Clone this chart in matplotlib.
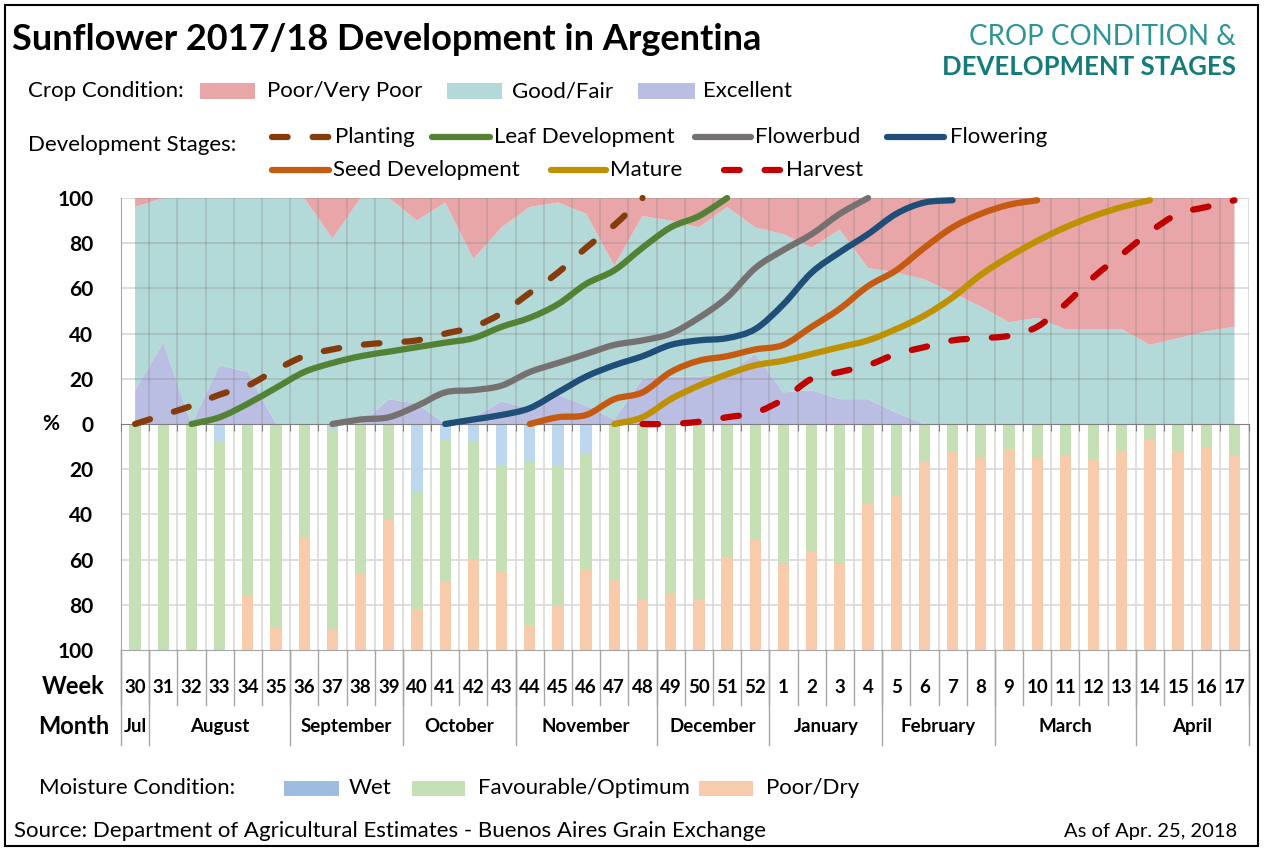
import matplotlib
matplotlib.use("Agg")
import matplotlib.pyplot as plt
import matplotlib.transforms as mtransforms
from matplotlib.patches import Rectangle, PathPatch
from matplotlib.lines import Line2D
from matplotlib.path import Path
import numpy as np

plt.rcParams['font.family'] = ['Lato', 'DejaVu Sans']

# ---- data ----
weeks = list(range(30, 53)) + list(range(1, 18))
months = ["Jul", "August", "September", "October", "November", "December",
          "January", "February", "March", "April"]
month_weeks = [1, 5, 4, 4, 5, 4, 4, 4, 5, 4]

# crop condition, % of area
excellent = [15, 36, 0, 26, 23, 0, 0, 0, 0, 11, 9, 0, 3, 10, 7, 13, 8, 2, 20, 21,
             21, 22, 31, 14, 15, 11, 11, 5, 0, 0, 0, 0, 0, 0, 0, 0, 0, 0, 0, 0]
good_fair = [81, 64, 100, 74, 77, 100, 100, 82, 100, 89, 81, 98, 70, 77, 89, 85, 85, 68, 72, 69,
             66, 74, 56, 70, 63, 75, 58, 62, 64, 58, 52, 45, 47, 42, 42, 42, 35, 38, 41, 43]
poor_vpoor = [4, 0, 0, 0, 0, 0, 0, 18, 0, 0, 10, 2, 27, 13, 4, 2, 7, 30, 8, 10,
              13, 4, 13, 16, 22, 14, 31, 33, 36, 42, 48, 55, 53, 58, 58, 58, 65, 62, 59, 57]

# development stages, cumulative %
N = None
planting = [0, 4, 8, 13, 17, 24, 30, 33, 35, 36, 37, 40, 43, 49, 58, 67, 78, 88, 100, N,
            N, N, N, N, N, N, N, N, N, N, N, N, N, N, N, N, N, N, N, N]
leaf_dev = [N, N, 0, 3, 9, 16, 23, 27, 30, 32, 34, 36, 38, 43, 47, 53, 62, 68, 78, 87,
            92, 100, N, N, N, N, N, N, N, N, N, N, N, N, N, N, N, N, N, N]
flowerbud = [N, N, N, N, N, N, N, 0, 2, 3, 8, 14, 15, 17, 23, 27, 31, 35, 37, 40,
             47, 56, 69, 77, 84, 93, 100, N, N, N, N, N, N, N, N, N, N, N, N, N]
flowering = [N, N, N, N, N, N, N, N, N, N, N, 0, 2, 4, 7, 14, 21, 26, 30, 35,
             37, 38, 42, 53, 67, 76, 84, 93, 98, 99, N, N, N, N, N, N, N, N, N, N]
seed_dev = [N, N, N, N, N, N, N, N, N, N, N, N, N, N, 0, 3, 4, 11, 14, 23,
            28, 30, 33, 35, 43, 51, 61, 68, 78, 87, 93, 97, 99, N, N, N, N, N, N, N]
mature = [N, N, N, N, N, N, N, N, N, N, N, N, N, N, N, N, N, 0, 3, 11,
          17, 22, 26, 28, 31, 34, 37, 42, 48, 56, 66, 74, 81, 87, 92, 96, 99, N, N, N]
harvest = [N, N, N, N, N, N, N, N, N, N, N, N, N, N, N, N, N, N, 0, 0,
           1, 3, 5, 11, 20, 23, 26, 31, 34, 37, 38, 39, 43, 53, 65, 75, 85, 93, 96, 99]

# moisture condition, %
wet = [0, 0, 0, 8, 0, 0, 0, 2, 0, 1, 30, 7, 8, 18, 17, 18, 13, 0, 0, 1,
       0, 0, 0, 0, 0, 0, 0, 0, 0, 0, 0, 0, 0, 0, 0, 0, 0, 0, 0, 0]
favourable = [100, 100, 100, 92, 76, 90, 50, 89, 66, 41, 52, 63, 52, 47, 72, 62, 51, 69, 78, 74,
              78, 59, 51, 62, 56, 62, 35, 32, 17, 12, 15, 11, 15, 14, 16, 12, 7, 12, 10, 14]
poor_dry = [0, 0, 0, 0, 24, 10, 50, 9, 34, 58, 18, 30, 40, 35, 11, 20, 36, 31, 22, 25,
            22, 41, 49, 38, 44, 38, 65, 68, 83, 88, 85, 89, 85, 86, 84, 88, 93, 88, 90, 86]

# ---- styling ----
C_POOR, C_GOOD, C_EXC = "#E8A6A8", "#B3D9D8", "#BABEE2"
C_WET, C_FAV, C_DRY = "#BDD7EE", "#C5E0B4", "#F8CBAD"
C_WET_LEG = "#9DBCE0"
stages = [
    ("Planting", planting, "#843C0C", True),
    ("Leaf Development", leaf_dev, "#548235", False),
    ("Flowerbud", flowerbud, "#767171", False),
    ("Flowering", flowering, "#1F4E79", False),
    ("Seed Development", seed_dev, "#C55A11", False),
    ("Mature", mature, "#BF9000", False),
    ("Harvest", harvest, "#C00000", True),
]
DASH = (0, (2.5, 4))
LW = 4.5
LEG = 16

W, H = 1264, 850
fig = plt.figure(figsize=(W / 100, H / 100), dpi=100)


def fx(px):
    return px / W


def fy(py):
    return 1 - py / H


def smooth_path(xs, ys):
    # Excel-style smoothed line: cubic bezier through the weekly points
    verts, codes = [(xs[0], ys[0])], [Path.MOVETO]
    n = len(xs)
    for i in range(n - 1):
        xa, ya = (xs[i - 1], ys[i - 1]) if i > 0 else (xs[i], ys[i])
        xb, yb = (xs[i + 2], ys[i + 2]) if i + 2 < n else (xs[i + 1], ys[i + 1])
        c1 = (xs[i] + (xs[i + 1] - xa) / 6, ys[i] + (ys[i + 1] - ya) / 6)
        c2 = (xs[i + 1] - (xb - xs[i]) / 6, ys[i + 1] - (yb - ys[i]) / 6)
        verts += [c1, c2, (xs[i + 1], ys[i + 1])]
        codes += [Path.CURVE4] * 3
    return Path(verts, codes)


L, R = 121, 1248.6
ax1 = fig.add_axes([fx(L), fy(424), fx(R) - fx(L), fy(198) - fy(424)])
ax2 = fig.add_axes([fx(L), fy(650), fx(R) - fx(L), fy(424) - fy(650)])
ax1.set_zorder(3)

x = np.arange(len(weeks))
edges = np.arange(len(weeks) + 1) - 0.5

# ---- upper panel: crop condition + stages ----
ax1.stackplot(x, excellent, good_fair, poor_vpoor, colors=[C_EXC, C_GOOD, C_POOR],
              linewidth=0, zorder=1)
for e in edges[1:]:
    ax1.axvline(e, color="#7F7F7F", alpha=0.3, lw=1.2, zorder=2)
for v in (20, 40, 60, 80, 100):
    ax1.axhline(v, color="#7F7F7F", alpha=0.3, lw=1.2, zorder=2)

for name, vals, col, dashed in stages:
    idx = [i for i, v in enumerate(vals) if v is not None]
    path = smooth_path([x[i] for i in idx], [vals[i] for i in idx])
    ax1.add_patch(PathPatch(path, fill=False, edgecolor=col, lw=LW,
                            ls=DASH if dashed else "-", capstyle="round",
                            joinstyle="round", zorder=4, clip_on=False))

ax1.set_xlim(-0.5, len(weeks) - 0.5)
ax1.set_ylim(0, 100)
ax1.set_xticks(edges)
ax1.tick_params(axis="x", length=5, color="#7F7F7F", labelbottom=False)
ax1.set_yticks([0, 20, 40, 60, 80, 100])
ax1.set_yticklabels(["0", "20", "40", "60", "80", "100"], fontweight="bold", fontsize=15)
ax1.tick_params(axis="y", length=0, pad=20)
for s in ("top", "right"):
    ax1.spines[s].set_visible(False)
ax1.spines["left"].set_color("#A6A6A6")
ax1.spines["bottom"].set_color("#7F7F7F")

# ---- lower panel: moisture ----
ax2.set_axisbelow(True)
for e in edges:
    ax2.axvline(e, color="#D9D9D9", lw=1.2, zorder=0)
for v in (20, 40, 60, 80):
    ax2.axhline(v, color="#D9D9D9", lw=1.2, zorder=0)
ax2.bar(x, wet, 0.4, color=C_WET, zorder=2)
ax2.bar(x, favourable, 0.4, bottom=wet, color=C_FAV, zorder=2)
ax2.bar(x, poor_dry, 0.4, bottom=np.add(wet, favourable), color=C_DRY, zorder=2)
ax2.set_xlim(-0.5, len(weeks) - 0.5)
ax2.set_ylim(100, 0)
ax2.set_xticks([])
ax2.set_yticks([20, 40, 60, 80, 100])
ax2.set_yticklabels(["20", "40", "60", "80", "100"], fontweight="bold", fontsize=15)
ax2.tick_params(axis="y", length=0, pad=20)
ax2.spines["top"].set_visible(False)
for s in ("left", "right", "bottom"):
    ax2.spines[s].set_color("#A6A6A6")

# week / month rows under the chart
blend = mtransforms.blended_transform_factory(ax2.transData, ax2.transAxes)
for i, w in enumerate(weeks):
    ax2.text(i, -0.165, str(w), transform=blend, ha="center", va="center",
             fontweight="bold", fontsize=13.5)
month_edges = np.concatenate([[0], np.cumsum(month_weeks)])
for e in edges:
    ax2.plot([e, e], [0, -0.245], transform=blend, color="#A6A6A6", lw=1, clip_on=False)
for e in month_edges:
    ax2.plot([e - 0.5, e - 0.5], [0, -0.42], transform=blend, color="#A6A6A6", lw=1,
             clip_on=False)
for m, a, b in zip(months, month_edges[:-1], month_edges[1:]):
    ax2.text((a + b - 1) / 2, -0.34, m, transform=blend, ha="center", va="center",
             fontweight="bold", fontsize=13.5)

fig.text(fx(42), fy(687), "Week", ha="left", va="center", fontweight="bold", fontsize=17)
fig.text(fx(38), fy(727), "Month", ha="left", va="center", fontweight="bold", fontsize=17)
fig.text(fx(42), fy(424), "%", ha="left", va="center", fontweight="bold", fontsize=15)

# ---- header ----
fig.text(fx(12), fy(40), "Sunflower 2017/18 Development in Argentina", ha="left",
         va="center", fontweight="bold", fontsize=26)
fig.text(fx(1236), fy(37), "CROP CONDITION &", ha="right", va="center",
         color="#2E9494", fontsize=20)
fig.text(fx(1236), fy(67), "DEVELOPMENT STAGES", ha="right", va="center",
         color="#147B7B", fontweight="bold", fontsize=18.5)


def patch(x0, x1, yc, h, color):
    fig.add_artist(Rectangle((fx(x0), fy(yc + h / 2)), fx(x1) - fx(x0), h / H,
                             transform=fig.transFigure, color=color, lw=0))


def line(x0, x1, yc, color, dashed):
    fig.add_artist(Line2D([fx(x0), fx(x1)], [fy(yc), fy(yc)], transform=fig.transFigure,
                          color=color, lw=LW, ls=DASH if dashed else "-",
                          solid_capstyle="round", dash_capstyle="round"))


fig.text(fx(28), fy(91), "Crop Condition:", ha="left", va="center", fontsize=LEG)
for (x0, x1, tx), lab, col in zip([(200, 255, 267), (447, 502, 512), (638, 695, 703)],
                                  ["Poor/Very Poor", "Good/Fair", "Excellent"],
                                  [C_POOR, C_GOOD, C_EXC]):
    patch(x0, x1, 91, 16, col)
    fig.text(fx(tx), fy(91), lab, ha="left", va="center", fontsize=LEG)

fig.text(fx(28), fy(145), "Development Stages:", ha="left", va="center", fontsize=LEG)
leg_pos = [(272, 329, 335, 137), (432, 490, 494, 137), (695, 751, 755, 137),
           (887, 944, 950, 137), (272, 329, 333, 170), (551, 606, 610, 170),
           (724, 780, 786, 170)]
for (x0, x1, tx, yc), (name, _, col, dashed) in zip(leg_pos, stages):
    line(x0, x1, yc, col, dashed)
    fig.text(fx(tx), fy(yc), name, ha="left", va="center", fontsize=LEG)

# ---- moisture legend + footer ----
fig.text(fx(39), fy(788), "Moisture Condition:", ha="left", va="center", fontsize=LEG)
for (x0, x1, tx), lab, col in zip([(284, 339, 349), (412, 465, 478), (699, 753, 766)],
                                  ["Wet", "Favourable/Optimum", "Poor/Dry"],
                                  [C_WET_LEG, C_FAV, C_DRY]):
    patch(x0, x1, 788, 15, col)
    fig.text(fx(tx), fy(788), lab, ha="left", va="center", fontsize=LEG)

fig.text(fx(14), fy(831), "Source: Department of Agricultural Estimates - Buenos Aires Grain Exchange",
         ha="left", va="center", fontsize=16)
fig.text(fx(1237), fy(831), "As of Apr. 25, 2018", ha="right", va="center", fontsize=14.5)

fig.add_artist(Rectangle((fx(5), fy(846)), fx(1258) - fx(5), fy(5) - fy(846),
                         transform=fig.transFigure, fill=False, ec="black", lw=1.5))

fig.savefig("out.png", dpi=100)
